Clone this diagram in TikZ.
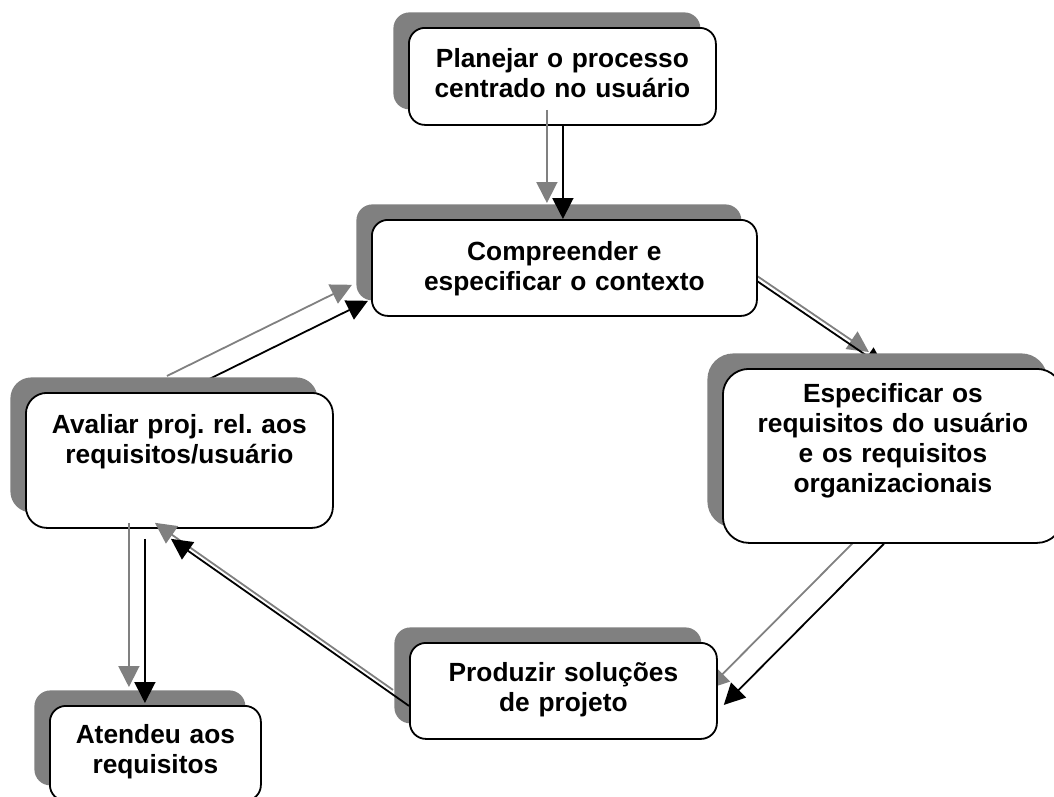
\documentclass[tikz,border=0pt]{standalone}
\usepackage{fontspec}
\setmainfont{Liberation Sans}
\usetikzlibrary{arrows.meta,calc,shadows}
\pgfdeclarelayer{back}
\pgfsetlayers{back,main}
\definecolor{shade}{gray}{0.5}
\frenchspacing

\begin{document}
\begin{tikzpicture}[x=1pt,y=-1pt,
  box/.style={draw=black, line width=1.8pt, fill=white, inner sep=0pt,
    align=center, anchor=north west,
    font=\bfseries\fontsize{26.3}{30}\selectfont,
    general shadow={shadow xshift=-15.5pt, shadow yshift=15.5pt, fill=shade}},
  link/.style={draw=black, line width=1.8pt,
    -{Triangle[length=21pt,width=21pt]}},
  echo/.style={link, draw=shade, transform canvas={shift={(-16pt,16pt)}}},
]
\useasboundingbox (0,0) rectangle (1054,796);
\clip (0,0) rectangle (1054,796);

% process steps
\node[box, text width=307pt, text height=40pt, text depth=57pt, rounded corners=16pt]
  (plan) at (408,27) {Planejar o processo\\centrado no usuário};
\node[box, text width=385pt, text height=41pt, text depth=55pt, rounded corners=16pt]
  (ctx) at (371,219) {Compreender e\\especificar o contexto};
\node[box, text width=340pt, text height=34pt, text depth=140pt, rounded corners=26pt]
  (req) at (722,368) {Especificar os\\requisitos do usuário\\e os requisitos\\organizacionais};
\node[box, text width=307pt, text height=41pt, text depth=94pt, rounded corners=21pt]
  (eval) at (25,392) {Avaliar proj. rel. aos\\requisitos/usuário};
\node[box, text width=307pt, text height=39pt, text depth=57pt, rounded corners=16pt]
  (prod) at (409,642) {Produzir soluções\\de projeto};
\node[box, text width=211pt, text height=38pt, text depth=57pt, rounded corners=16pt]
  (done) at (49,705) {Atendeu aos\\requisitos};

% connectors passing under the boxes
\begin{pgfonlayer}{back}
  \foreach \sty in {echo,link} {
    \draw[\sty] ($(ctx.east)+(-1,13)$) -- ($(req.north)+(-8,0)$);
    \draw[\sty] ($(req.south)+(-9,0)$) -- ($(prod.east)+(6,14)$);
    \draw[\sty] ($(eval.north)+(3.5,0)$) -- ($(ctx.south west)+(-3,-16)$);
  }
\end{pgfonlayer}

% connectors drawn over the boxes
\foreach \sty in {echo,link} {
  \draw[\sty] ($(plan.south)+(0.5,0)$) -- ($(ctx.north)+(-1.5,0)$);
  \draw[\sty] ($(prod.west)+(0,15)$) -- ($(eval.south)+(-8.5,10)$);
  \draw[\sty] ($(eval.south)+(-34.5,10)$) -- ($(done.north)+(-10.5,-2)$);
}
\end{tikzpicture}
\end{document}
